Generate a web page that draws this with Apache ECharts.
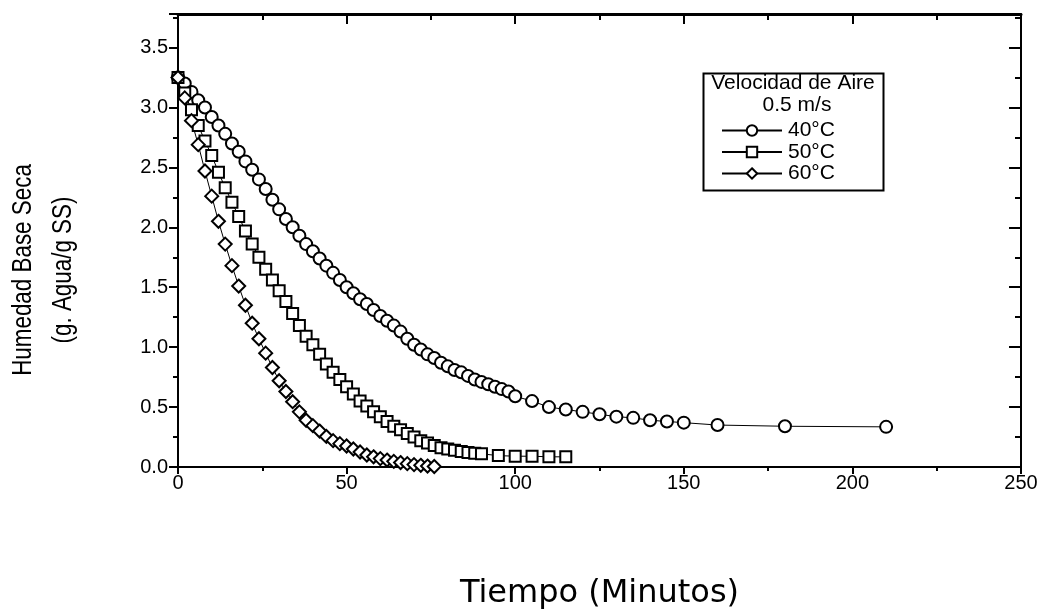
<!DOCTYPE html>
<html><head><meta charset="utf-8">
<script src="https://cdn.jsdelivr.net/npm/echarts@6/dist/echarts.min.js"></script>
<style>html,body{margin:0;padding:0;background:#fff}#c{width:1047px;height:616px}</style>
</head><body><div id="c"></div>
<script>
// ---- data (time in minutes, moisture g water / g dry solid) ----
const t40 = [0,2,4,6,8,10,12,14,16,18,20,22,24,26,28,30,32,34,36,38,40,42,44,46,48,50,52,54,56,58,60,62,64,66,68,70,72,74,76,78,80,82,84,86,88,90,92,94,96,98,100,105,110,115,120,125,130,135,140,145,150,160,180,210];
const h40 = [3.25,3.20,3.13,3.06,3.00,2.92,2.85,2.78,2.70,2.63,2.55,2.48,2.40,2.32,2.23,2.15,2.07,2.00,1.93,1.86,1.80,1.74,1.68,1.62,1.56,1.50,1.45,1.40,1.36,1.31,1.26,1.22,1.18,1.13,1.07,1.02,0.98,0.94,0.91,0.87,0.84,0.81,0.79,0.76,0.73,0.71,0.69,0.67,0.65,0.63,0.59,0.55,0.50,0.48,0.46,0.44,0.42,0.41,0.39,0.38,0.37,0.35,0.34,0.335];
const t50 = [0,2,4,6,8,10,12,14,16,18,20,22,24,26,28,30,32,34,36,38,40,42,44,46,48,50,52,54,56,58,60,62,64,66,68,70,72,74,76,78,80,82,84,86,88,90,95,100,105,110,115];
const h50 = [3.25,3.12,2.98,2.85,2.72,2.60,2.46,2.33,2.21,2.09,1.97,1.86,1.75,1.65,1.56,1.47,1.38,1.28,1.18,1.09,1.02,0.94,0.86,0.79,0.73,0.67,0.61,0.55,0.51,0.46,0.42,0.38,0.34,0.31,0.28,0.25,0.22,0.20,0.18,0.16,0.15,0.14,0.13,0.12,0.115,0.11,0.095,0.09,0.09,0.085,0.085];
const t60 = [0,2,4,6,8,10,12,14,16,18,20,22,24,26,28,30,32,34,36,38,40,42,44,46,48,50,52,54,56,58,60,62,64,66,68,70,72,74,76];
const h60 = [3.25,3.08,2.89,2.69,2.47,2.26,2.05,1.86,1.68,1.51,1.35,1.20,1.07,0.95,0.83,0.72,0.63,0.545,0.46,0.39,0.345,0.30,0.255,0.22,0.195,0.175,0.15,0.125,0.10,0.085,0.07,0.058,0.047,0.037,0.028,0.02,0.014,0.008,0.004];
const seriesNames = ['40°C','50°C','60°C'];
const xTicks = [0,50,100,150,200,250];
const yTicks = [0,0.5,1.0,1.5,2.0,2.5,3.0,3.5];
const xTitle = 'Tiempo (Minutos)';
const yTitle1 = 'Humedad Base Seca';
const yTitle2 = '(g. Agua/g SS)';
const legendTitle = 'Velocidad de Aire';
const legendSub = '0.5 m/s';

const SANS = "'Liberation Sans',Arial,sans-serif";
const WIDE = "'DejaVu Sans',sans-serif";
const BLACK = '#000';

const zip = (a,b) => a.map((v,i)=>[v,b[i]]);
function xa(pos, inside, showLabel, lw, len, mlen){
  return {type:'value', position:pos, min:xTicks[0], max:xTicks[xTicks.length-1], interval:50,
    axisLine:{show:true,onZero:false,lineStyle:{color:BLACK,width:lw}},
    axisTick:{show:true,inside:inside,length:len,lineStyle:{color:BLACK,width:2}},
    minorTick:{show:true,splitNumber:2,length:mlen,lineStyle:{color:BLACK,width:2}},
    splitLine:{show:false}, minorSplitLine:{show:false},
    axisLabel:{show:showLabel,fontSize:20,color:BLACK,fontFamily:SANS,margin:6}};
}
function ya(pos, inside, interval, len, showLine, showLabel){
  return {type:'value', position:pos, min:0, max:3.78, interval:interval,
    axisLine:{show:showLine,onZero:false,lineStyle:{color:BLACK,width:2}},
    axisTick:{show:true,inside:inside,length:len,lineStyle:{color:BLACK,width:2}},
    splitLine:{show:false},
    axisLabel:{show:showLabel,fontSize:20,color:BLACK,fontFamily:SANS,margin:10,
      formatter:v => yTicks.some(t=>Math.abs(t-v)<1e-9) ? v.toFixed(1) : ''}};
}
const xBottom = xa('bottom', false, true, 2, 7, 4);
xBottom.name = xTitle; xBottom.nameLocation='middle'; xBottom.nameGap=111;
xBottom.nameTextStyle = {fontFamily:WIDE,fontSize:32,color:BLACK};

function mk(name, t, h, symbol, size){
  return {name:name, type:'line', xAxisIndex:0, yAxisIndex:0, data:zip(t,h),
    symbol:symbol, symbolSize:size, showSymbol:true,
    lineStyle:{color:BLACK,width:1},
    itemStyle:{color:'#fff',borderColor:BLACK,borderWidth:2},
    emphasis:{disabled:true}, animation:false, z:3};
}

const chart = echarts.init(document.getElementById('c'), null, {renderer:'canvas'});
chart.setOption({
  backgroundColor:'#fff',
  animation:false,
  grid:{left:178,right:26,top:14,bottom:149,containLabel:false},
  xAxis:[xBottom, xa('top', true, false, 3, 10, 6)],
  yAxis:[ya('left', false, 0.5, 9, true, true), ya('left', false, 0.25, 5, false, false),
         ya('right', true, 0.5, 12, true, false), ya('right', true, 0.25, 6, false, false)],
  legend:{orient:'vertical', left:716, top:115, itemWidth:60, itemHeight:13, itemGap:0.5,
    selectedMode:false, data:seriesNames,
    textStyle:{fontFamily:SANS,fontSize:21,lineHeight:21,color:BLACK,padding:[0,0,0,1]}},
  graphic:[
    {type:'rect', left:701, top:71, shape:{width:180,height:117}, style:{fill:'none',stroke:BLACK,lineWidth:2}, z:10},
    {type:'text', x:793, y:83, style:{text:legendTitle,fontFamily:SANS,fontSize:21,fill:BLACK,align:'center',verticalAlign:'middle'}, z:10},
    {type:'text', x:797, y:105, style:{text:legendSub,fontFamily:SANS,fontSize:21,fill:BLACK,align:'center',verticalAlign:'middle'}, z:10},
    {type:'text', x:23, y:270, rotation:Math.PI/2, scaleX:0.8, style:{text:yTitle1,fontFamily:SANS,fontSize:28,fill:BLACK,align:'center',verticalAlign:'middle'}, z:10},
    {type:'text', x:63, y:270, rotation:Math.PI/2, scaleX:0.8, style:{text:yTitle2,fontFamily:SANS,fontSize:28,fill:BLACK,align:'center',verticalAlign:'middle'}, z:10}
  ],
  series:[
    mk(seriesNames[0], t40, h40, 'circle', 12),
    mk(seriesNames[1], t50, h50, 'rect', 11),
    mk(seriesNames[2], t60, h60, 'diamond', 13)
  ]
});
</script></body></html>
